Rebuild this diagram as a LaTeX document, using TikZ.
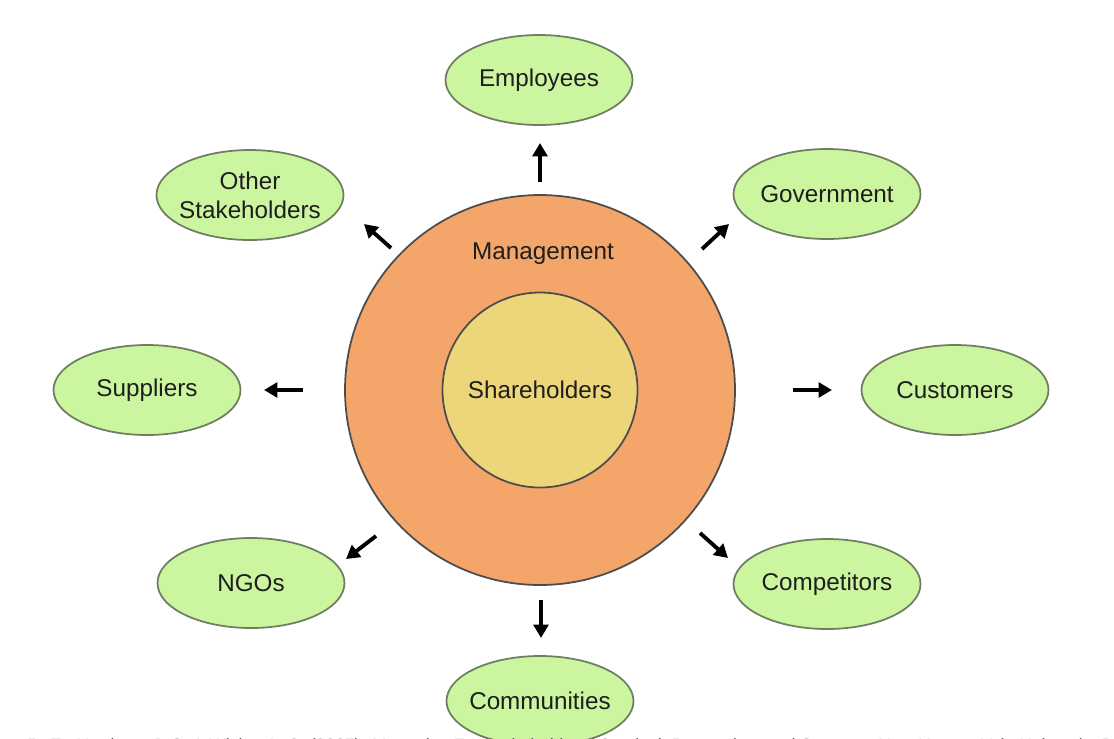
\documentclass[tikz,border=0pt]{standalone}
\usepackage{fontspec}
\setmainfont{Liberation Sans}
\usetikzlibrary{arrows.meta,positioning,shapes.geometric}

\definecolor{leaf}{HTML}{CCF5A0}
\definecolor{leafline}{HTML}{6E7E60}
\definecolor{mgmtorange}{HTML}{F4A66A}
\definecolor{shareyellow}{HTML}{EDD57A}
\definecolor{ink}{HTML}{1E1E1E}

\begin{document}
\begin{tikzpicture}[
    font=\fontsize{6.9}{8.2}\selectfont,
    text=ink,
    stake/.style={ellipse, draw=leafline, fill=leaf, line width=0.5pt,
                  minimum width=1.87cm, minimum height=0.9cm,
                  inner xsep=-0.2cm, inner ysep=0pt, align=center},
    push/.style={-{Triangle[length=3.8pt,width=4.2pt]}, line width=1.1pt, black}
]
\useasboundingbox (0,0) rectangle (11.14,-7.38);
\clip (0,0) rectangle (11.14,-7.38);

% Centre: management around shareholders
\node[circle, draw=black!70, fill=mgmtorange, line width=0.5pt,
      minimum size=3.9cm] (mgmt) at (5.40,-3.90) {};
\node (mgmtlabel) at (5.43,-2.54) {Management};
\node[circle, draw=black!70, fill=shareyellow, line width=0.5pt,
      minimum size=1.95cm] (share) at (5.40,-3.90) {Shareholders};

% Stakeholder groups
\node[stake] (emp)   at (5.39,-0.80) {Employees};
\node[stake] (gov)   at (8.27,-1.94) {Government};
\node[stake] (other) at (2.50,-1.95) {Other\\Stakeholders};
\node[stake] (sup)   at (1.47,-3.90) {Suppliers};
\node[stake] (cust)  at (9.55,-3.90) {Customers};
\node[stake] (ngo)   at (2.51,-5.83) {NGOs};
\node[stake] (comp)  at (8.27,-5.84) {Competitors};
\node[stake] (comm)  at (5.40,-7.01) {Communities};

% Arrow ends
\coordinate (empA)   at (5.40,-1.82);  \coordinate (empB)   at (5.40,-1.43);
\coordinate (govA)   at (7.02,-2.49);  \coordinate (govB)   at (7.29,-2.24);
\coordinate (otherA) at (3.91,-2.48);  \coordinate (otherB) at (3.64,-2.24);
\coordinate (supA)   at (3.03,-3.90);  \coordinate (supB)   at (2.64,-3.90);
\coordinate (custA)  at (7.93,-3.90);  \coordinate (custB)  at (8.32,-3.90);
\coordinate (ngoA)   at (3.76,-5.36);  \coordinate (ngoB)   at (3.46,-5.59);
\coordinate (compA)  at (7.00,-5.33);  \coordinate (compB)  at (7.28,-5.58);
\coordinate (commA)  at (5.41,-6.00);  \coordinate (commB)  at (5.41,-6.38);

% Arrows
\draw[push] (empA) -- (empB);
\draw[push] (govA) -- (govB);
\draw[push] (otherA) -- (otherB);
\draw[push] (supA) -- (supB);
\draw[push] (custA) -- (custB);
\draw[push] (ngoA) -- (ngoB);
\draw[push] (compA) -- (compB);
\draw[push] (commA) -- (commB);

% Source line, cut by the lower edge
\node[anchor=base west, inner sep=0pt, font=\fontsize{5}{6}\selectfont] (cite)
    at (0.27,-7.51) {R. E., Harrison, J. S. \& Wicks, A. C. (2007). Managing For Stakeholders: Survival, Reputation, and Success. New Haven: Yale University Press.};

\end{tikzpicture}
\end{document}
